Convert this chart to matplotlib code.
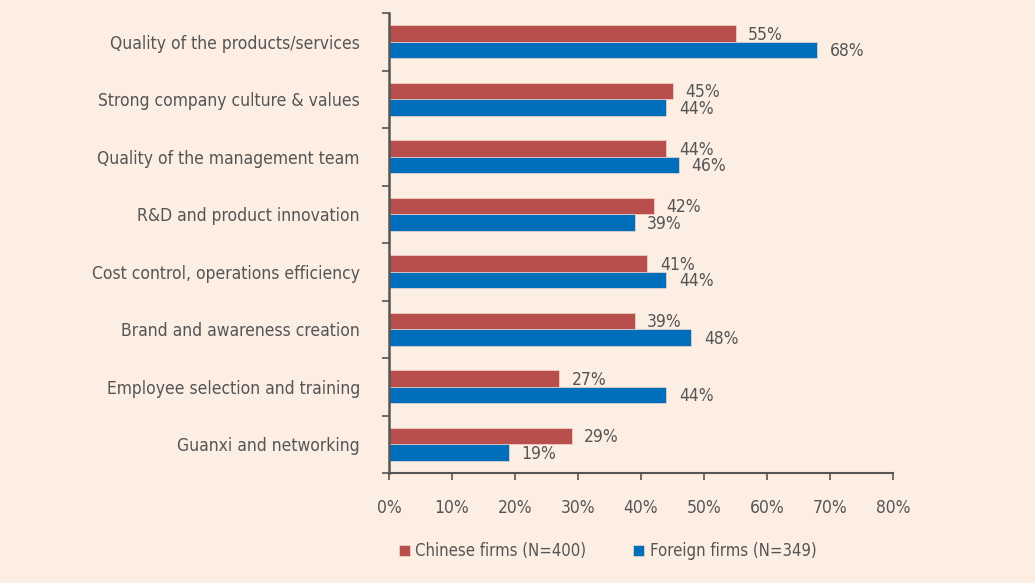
import matplotlib.pyplot as plt
import numpy as np

# data
categories = ['Quality of the products/services', 'Strong company culture & values',
              'Quality of the management team', 'R&D and product innovation',
              'Cost control, operations efficiency', 'Brand and awareness creation',
              'Employee selection and training', 'Guanxi and networking']
chinese = [55, 45, 44, 42, 41, 39, 27, 29]
foreign = [68, 44, 46, 39, 44, 48, 44, 19]
xticks = [0, 10, 20, 30, 40, 50, 60, 70, 80]

bg = '#FDEEE4'
red = '#B94F4C'
blue = '#006EBB'
grey = '#555555'

plt.rcParams['font.family'] = ['DejaVu Sans']
plt.rcParams['font.stretch'] = 'condensed'

fig = plt.figure(figsize=(10.35, 5.83), dpi=100, facecolor=bg)
ax = fig.add_axes([389/1035, 1-473/583, (893-389)/1035, (473-13)/583])
ax.set_facecolor(bg)

y = np.arange(len(categories))
h = 0.285
ax.barh(y - h/2, chinese, height=h, color=red, edgecolor='#F3D6CC', linewidth=0.5,
        label='Chinese firms (N=400)')
ax.barh(y + h/2, foreign, height=h, color=blue, edgecolor='#F3D6CC', linewidth=0.5,
        label='Foreign firms (N=349)')

for yi, v in zip(y, chinese):
    ax.text(v + 2.0, yi - h/2 + 0.02, f'{v}%', va='center', ha='left', fontsize=12.5, color=grey)
for yi, v in zip(y, foreign):
    ax.text(v + 2.0, yi + h/2 + 0.02, f'{v}%', va='center', ha='left', fontsize=12.5, color=grey)

ax.set_xlim(0, 80)
ax.set_ylim(len(categories) - 0.5, -0.5)

ax.set_xticks(xticks)
ax.set_xticklabels([f'{t}%' for t in xticks], fontsize=12.5, color=grey)
ax.tick_params(axis='x', direction='out', length=5, width=1.2, color=grey, pad=14)

# boundaries get the tick marks, centres get the labels
ax.set_yticks(np.arange(len(categories) + 1) - 0.5)
ax.set_yticklabels([])
ax.tick_params(axis='y', which='major', direction='out', length=5, width=1.2, color=grey)
ax.set_yticks(y, minor=True)
ax.set_yticklabels(categories, minor=True, fontsize=12.5, color=grey)
ax.tick_params(axis='y', which='minor', length=0, pad=21)

for s in ['top', 'right']:
    ax.spines[s].set_visible(False)
ax.spines['left'].set_color(grey)
ax.spines['left'].set_linewidth(1.8)
ax.spines['bottom'].set_color(grey)
ax.spines['bottom'].set_linewidth(1.5)

fig.legend(loc='center left', bbox_to_anchor=(392/1035, 1-551/583), ncol=2, frameon=False,
           fontsize=12, labelcolor=grey, handlelength=0.65, handleheight=0.65,
           handletextpad=0.35, columnspacing=2.8, borderaxespad=0)

fig.savefig('out.png', dpi=100, facecolor=bg)
